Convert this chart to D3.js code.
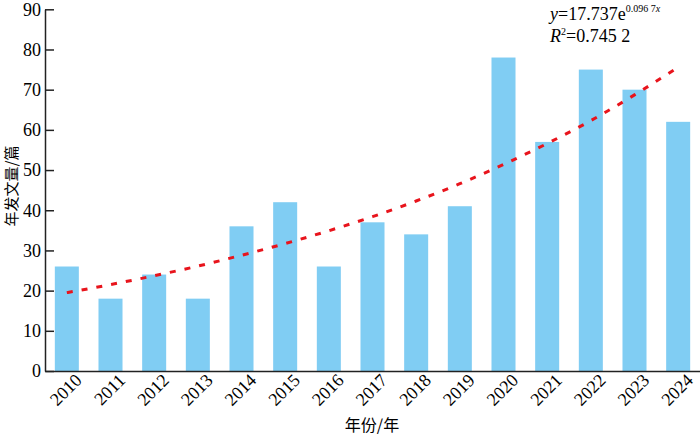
<!DOCTYPE html>
<html>
<head>
<meta charset="utf-8">
<script src="https://cdn.jsdelivr.net/npm/d3@7"></script>
<style>
body { margin: 0; background: #fff; }
svg { display: block; }
.tick text { font-family: "Liberation Serif", "Times New Roman", serif; font-size: 18px; fill: #000; }
</style>
</head>
<body>
<svg width="700" height="435"></svg>
<script>
var years = ["2010","2011","2012","2013","2014","2015","2016","2017","2018","2019","2020","2021","2022","2023","2024"];
var papers = [26, 18, 24, 18, 36, 42, 26, 37, 34, 41, 78, 57, 75, 70, 62];
var trend = [19.5, 21.5, 23.7, 26.1, 28.8, 31.7, 34.9, 38.4, 42.3, 46.6, 51.4, 56.6, 62.3, 68.7, 75.6];
var yTicks = [0, 10, 20, 30, 40, 50, 60, 70, 80, 90];

var svg = d3.select("svg"),
    margin = {top: 9.3, right: 0, bottom: 64, left: 45},
    plotW = +svg.attr("width") - margin.right,
    plotB = +svg.attr("height") - margin.bottom;

var data = years.map(function(y, i) { return {year: y, n: papers[i], t: trend[i]}; });

var x = d3.scaleBand().domain(years).range([margin.left, plotW]).paddingInner(0.45).paddingOuter(0.225);
var y = d3.scaleLinear().domain([0, 90]).range([plotB, margin.top]);

// bars
svg.selectAll(".bar")
    .data(data)
    .enter().append("rect")
    .attr("class", "bar")
    .attr("x", function(d) { return x(d.year); })
    .attr("y", function(d) { return y(d.n); })
    .attr("width", x.bandwidth())
    .attr("height", function(d) { return y(0) - y(d.n); })
    .attr("fill", "#80cdf3");

// trend line
var line = d3.line()
    .x(function(d) { return x(d.year) + x.bandwidth() / 2; })
    .y(function(d) { return y(d.t); })
    .curve(d3.curveMonotoneX);

svg.append("path")
    .datum(data)
    .attr("d", line)
    .attr("fill", "none")
    .attr("stroke", "#e8141c")
    .attr("stroke-width", 3)
    .attr("stroke-dasharray", "6,9");

// axes
var gy = svg.append("g")
    .attr("transform", "translate(" + margin.left + ",0)")
    .call(d3.axisLeft(y).tickValues(yTicks).tickSize(0).tickPadding(4));
gy.select(".domain").attr("stroke", "#222").attr("stroke-width", 1.5);
gy.selectAll(".tick").append("line")
    .attr("x1", 0).attr("x2", 9)
    .attr("stroke", "#222").attr("stroke-width", 1.5);

var gx = svg.append("g")
    .attr("transform", "translate(0," + plotB + ")")
    .call(d3.axisBottom(x).tickSize(0).tickSizeOuter(0));
gx.select(".domain").attr("stroke", "#222").attr("stroke-width", 1.5);
gx.selectAll(".tick text")
    .attr("text-anchor", "end")
    .attr("x", 4)
    .attr("y", 6)
    .attr("dy", "0.7em")
    .attr("transform", "rotate(-45)");

// axis titles
svg.append("text")
    .attr("x", 372).attr("y", 431)
    .attr("text-anchor", "middle")
    .style("font-family", "'Noto Sans CJK SC', sans-serif")
    .style("font-size", "16px")
    .text("年份/年");

svg.append("text")
    .attr("transform", "translate(17,186) rotate(-90)")
    .attr("text-anchor", "middle")
    .style("font-family", "'Noto Sans CJK SC', sans-serif")
    .style("font-size", "15px")
    .text("年发文量/篇");

// equation
var eq = svg.append("text")
    .attr("x", 550).attr("y", 20)
    .style("font-family", "'Liberation Serif', serif")
    .style("font-size", "18px");
eq.append("tspan").style("font-style", "italic").text("y");
eq.append("tspan").text("=17.737e");
eq.append("tspan").attr("dy", -8).style("font-size", "10px").text("0.096 7");
eq.append("tspan").style("font-size", "10px").style("font-style", "italic").text("x");

var r2 = svg.append("text")
    .attr("x", 550).attr("y", 42)
    .style("font-family", "'Liberation Serif', serif")
    .style("font-size", "18px");
r2.append("tspan").style("font-style", "italic").text("R");
r2.append("tspan").attr("dy", -7).style("font-size", "10px").text("2");
r2.append("tspan").attr("dy", 7).text("=0.745 2");
</script>
</body>
</html>
